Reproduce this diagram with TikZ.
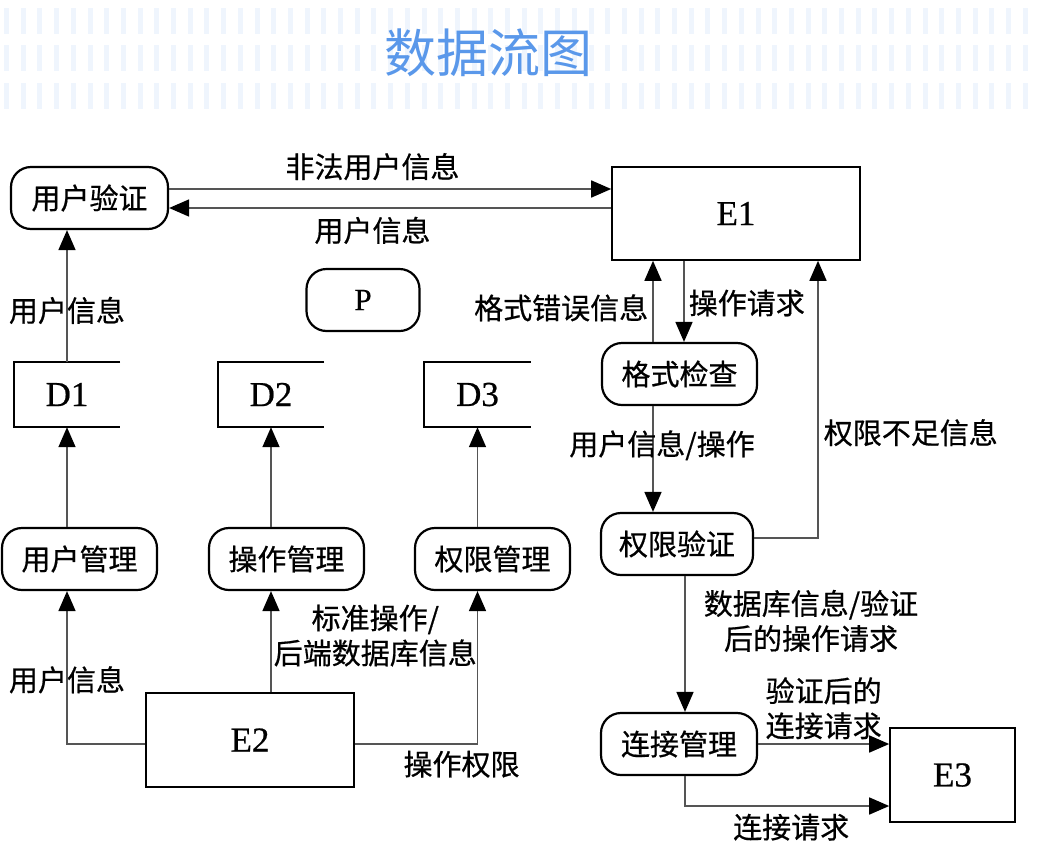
\documentclass[tikz,border=0pt]{standalone}
\usepackage{fontspec}
\setmainfont{Liberation Serif}[FakeBold=0.6]
\newfontfamily\cjk{Noto Sans CJK SC}[FakeBold=0.6]
\newfontfamily\titlecjk{Noto Sans CJK SC}
\usetikzlibrary{arrows.meta}

\definecolor{titleblue}{RGB}{90,152,234}
\definecolor{stripeblue}{RGB}{239,245,253}
\definecolor{flowgray}{RGB}{85,85,85}

\tikzset{
  proc/.style={draw, line width=2.2pt, rounded corners=20pt, minimum height=62pt,
               inner sep=0pt, font=\cjk\fontsize{29}{35}\selectfont},
  extern/.style={draw, line width=1.6pt, inner sep=0pt, font=\fontsize{35}{40}\selectfont},
  store/.style={minimum width=106pt, minimum height=65pt, inner sep=0pt,
                font=\fontsize{35}{40}\selectfont},
  flow/.style={draw=flowgray, line width=1.6pt,
               -{Triangle[length=20pt,width=17pt,color=black]}},
  lbl/.style={font=\cjk\fontsize{29}{35}\selectfont, inner sep=2pt, align=center},
}

\begin{document}
\begin{tikzpicture}[x=1pt, y=-1pt]
    \useasboundingbox[fill=white] (0,0) rectangle (1039,860);

    % Title band
    \foreach \y in {8, 45, 83} {
      \foreach \x in {4, 20.7, ..., 1039} {
        \fill[stripeblue] (\x, \y) rectangle ++(5, 26);
      }
    }
    \node[font=\titlecjk\fontsize{52}{60}\selectfont, text=titleblue] (title) at (488,53) {数据流图};

    % Processes
    \node[proc, minimum width=157pt] (yhyz) at (89.5,198) {用户验证};
    \node[proc, minimum width=113pt, font=\fontsize{31}{34}\selectfont] (p) at (363,300) {P};
    \node[proc, minimum width=155pt] (gsjc) at (679.5,374) {格式检查};
    \node[proc, minimum width=152pt] (qxyz) at (677,544) {权限验证};
    \node[proc, minimum width=156pt] (ljgl) at (679,744) {连接管理};
    \foreach \n/\x/\t in {yhgl/79.5/用户管理, czgl/286.5/操作管理, qxgl/492.5/权限管理} {
      \node[proc, minimum width=155pt] (\n) at (\x,559) {\t};
    }

    % Data stores
    \foreach \n/\x in {1/67, 2/271, 3/477.5} {
      \node[store] (d\n) at (\x,394.5) {D\n};
      \draw[line width=2.2pt] (d\n.north east) -- (d\n.north west)
            -- (d\n.south west) -- (d\n.south east);
    }

    % External entities
    \node[extern, minimum width=248pt, minimum height=93pt] (e1) at (736,213.5) {E1};
    \node[extern, minimum width=208pt, minimum height=94pt] (e2) at (250,740) {E2};
    \node[extern, minimum width=125pt, minimum height=94pt] (e3) at (952.5,775) {E3};

    % Flows on the left
    \draw[flow] ([yshift=9pt]yhyz.east) -- ([yshift=9pt]yhyz.east -| e1.west)
          node[lbl, pos=0.46, above=6pt] {非法用户信息};
    \draw[flow] ([yshift=-10pt]yhyz.east -| e1.west) -- ([yshift=-10pt]yhyz.east)
          node[lbl, pos=0.54, below=6pt] {用户信息};
    \draw[flow] (d1.north) -- (d1.north |- yhyz.south)
          node[lbl, pos=0.39] {用户信息};
    \foreach \n/\m in {yhgl/1, czgl/2, qxgl/3} {
      \draw[flow] (\n.north -| d\m.south) -- (d\m.south);
    }
    \draw[flow] ([yshift=-4pt]e2.west) -| (d1.south |- yhgl.south)
          node[lbl, pos=0.71] {用户信息};
    \draw[flow] (e2.north -| d2.south) -- (czgl.south -| d2.south)
          node[lbl, pos=0.56, right=0pt] {标准操作/\\后端数据库信息};
    \draw[flow] ([yshift=-4pt]e2.east) -| (d3.south |- qxgl.south)
          node[lbl, pos=0.435, below=4pt] {操作权限};

    % Flows on the right
    \draw[flow] ([xshift=-26.5pt]gsjc.north) -- ([xshift=-26.5pt]gsjc.north |- e1.south)
          node[lbl, pos=0.42, left=2pt] {格式错误信息};
    \draw[flow] ([xshift=4.5pt]gsjc.north |- e1.south) -- ([xshift=4.5pt]gsjc.north)
          node[lbl, pos=0.52, right=2pt] {操作请求};
    \draw[flow] ([xshift=-26.5pt]gsjc.south) -- ([xshift=-26.5pt]gsjc.south |- qxyz.north)
          node[lbl, pos=0.37, xshift=9pt] {用户信息/操作};
    \draw[flow] ([yshift=6pt]qxyz.east) -| ([xshift=82pt]e1.south)
          node[lbl, pos=0.69, right=3pt] {权限不足信息};
    \draw[flow] ([xshift=8pt]qxyz.south) -- ([xshift=8pt]qxyz.south |- ljgl.north)
          node[lbl, pos=0.33, right=16pt] {数据库信息/验证\\后的操作请求};
    \draw[flow] (ljgl.east) -- (ljgl.east -| e3.west)
          node[lbl, midway, above=2pt] {验证后的\\连接请求};
    \draw[flow] ([xshift=6pt]ljgl.south) |- ([yshift=-31pt]e3.west)
          node[lbl, pos=0.76, below=5pt] {连接请求};
\end{tikzpicture}
\end{document}
